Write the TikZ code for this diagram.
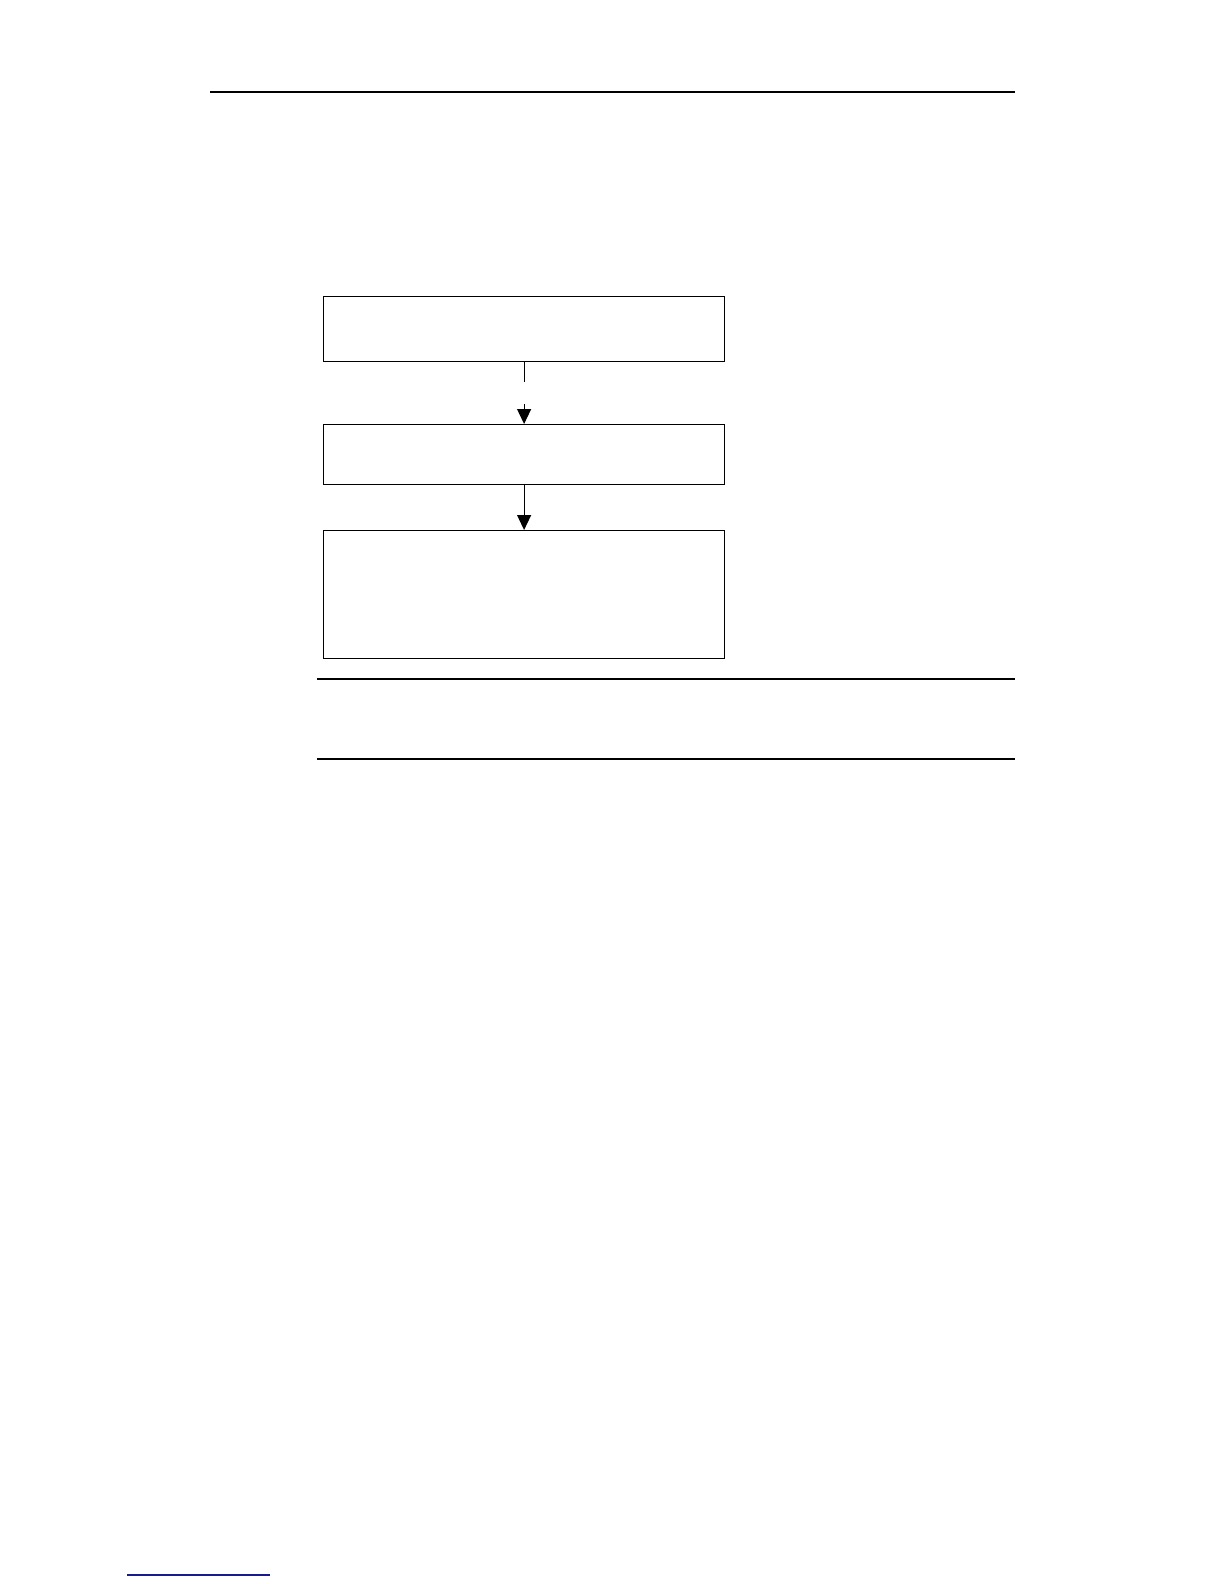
\documentclass[tikz,border=0pt]{standalone}
\usepackage{tikz}
\usetikzlibrary{arrows.meta}
\definecolor{linkblue}{RGB}{26,26,140}
\tikzset{
flowbox/.style={shape=rectangle, draw=black, line width=0.6pt, inner sep=0pt, anchor=north west, minimum width=200.5pt},
rulerline/.style={line width=0.6pt},
flowarrow/.style={line width=0.6pt, -{Triangle[width=7pt,length=7.5pt]}}
}
\begin{document}
\begin{tikzpicture}[x=0.5pt,y=-0.5pt]
    \useasboundingbox (0,0) rectangle (1224,1584);

                \coordinate (H1) at (210,92);
                \coordinate (H2) at (1015,92);
                \draw[line width=1pt] (H1) -- (H2);

                \node[flowbox, minimum height=32.5pt] (A) at (323,296) {};
                \node[flowbox, minimum height=30pt] (B) at (323,424) {};
                \node[flowbox, minimum height=64pt] (C) at (323,530) {};

                \coordinate (A1) at ([yshift=-10pt]A.south);
                \coordinate (B1) at ([yshift=10pt]B.north);
                \draw[rulerline] (A.south) -- (A1);
                \draw[flowarrow] (B1) -- (B.north);
                \draw[flowarrow] (B.south) -- (C.north);

                \coordinate (L1) at (317,679);
                \coordinate (R1) at (1015,679);
                \coordinate (L2) at (317,759);
                \coordinate (R2) at (1015,759);
                \draw[rulerline] (L1) -- (R1);
                \draw[rulerline] (L2) -- (R2);

                \coordinate (F1) at (127,1575);
                \coordinate (F2) at (270,1575);
                \draw[linkblue, line width=0.6pt] (F1) -- (F2);

\end{tikzpicture}
\end{document}
